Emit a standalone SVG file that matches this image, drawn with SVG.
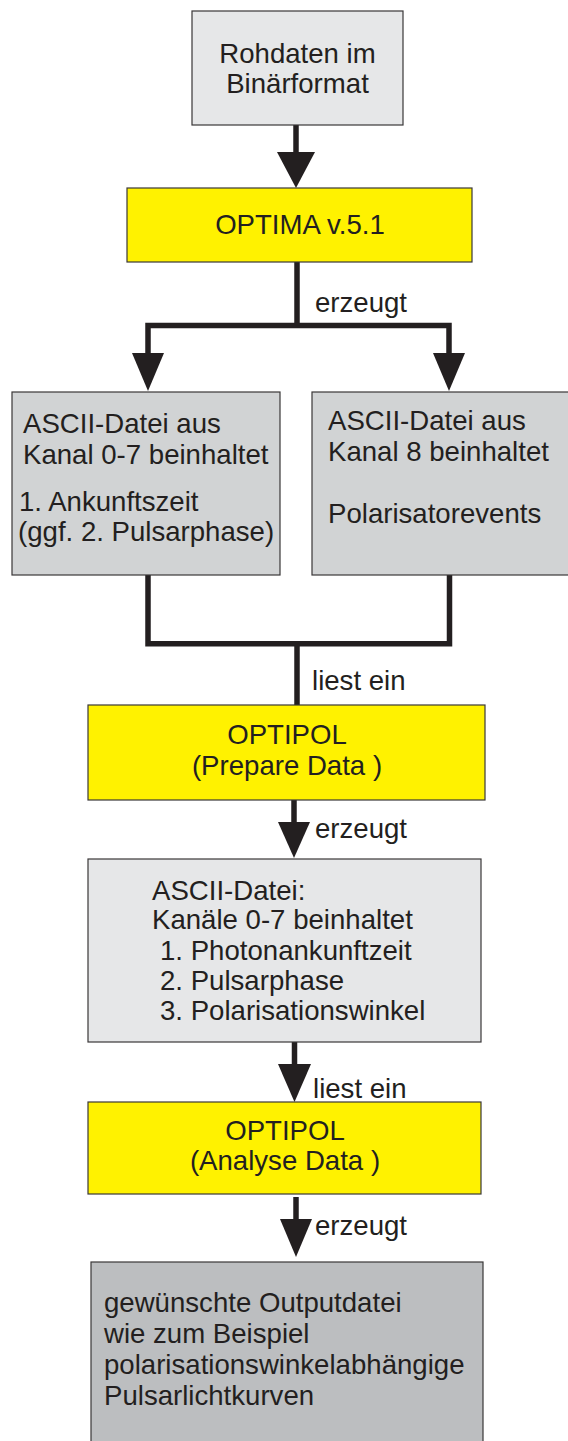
<svg xmlns="http://www.w3.org/2000/svg" width="568" height="1441" viewBox="0 0 568 1441">
<style>
text { font-family: "Liberation Sans", Arial, sans-serif; font-size: 27.6px; fill: #231f20; }
.c { text-anchor: middle; }
.box { stroke: #3a3738; stroke-width: 1.2; }
.light { fill: #e6e7e8; }
.mid { fill: #d1d3d4; }
.dark { fill: #bcbec0; }
.yel { fill: #fff200; }
.ln { stroke: #231f20; stroke-width: 5.5; fill: none; stroke-linecap: butt; }
.ah { fill: #231f20; }
</style>
<rect width="568" height="1441" fill="#ffffff"/>
<g id="connectors">
  <line class="ln" x1="296" y1="125" x2="296" y2="155"/>
  <polygon class="ah" points="277,152 315,152 296,188"/>
  <polyline class="ln" points="148,356 148,325.5 297,325.5 449,325.5 449,356"/>
  <line class="ln" x1="297" y1="262" x2="297" y2="325.5"/>
  <polygon class="ah" points="132,353 164,353 148,391"/>
  <polygon class="ah" points="433,353 465,353 449,391"/>
  <polyline class="ln" points="148,575 148,643.7 449.5,643.7 449.5,575"/>
  <line class="ln" x1="297" y1="643.7" x2="297" y2="705"/>
  <line class="ln" x1="294" y1="800" x2="294" y2="825"/>
  <polygon class="ah" points="278,822 310,822 294,858"/>
  <line class="ln" x1="294.5" y1="1042" x2="294.5" y2="1067"/>
  <polygon class="ah" points="278,1064 311,1064 294.5,1102"/>
  <line class="ln" x1="296" y1="1197" x2="296" y2="1222"/>
  <polygon class="ah" points="280,1219 312,1219 296,1257"/>
  <text x="315" y="312">erzeugt</text>
  <text x="312" y="690">liest ein</text>
  <text x="315" y="838">erzeugt</text>
  <text x="313" y="1098">liest ein</text>
  <text x="315" y="1235">erzeugt</text>
</g>
<g id="rohdaten">
  <rect class="box light" x="192" y="11" width="211" height="114"/>
  <text class="c" x="297.5" y="63">Rohdaten im</text>
  <text class="c" x="297.5" y="93">Binärformat</text>
</g>
<g id="optima">
  <rect class="box yel" x="127" y="188" width="345" height="74"/>
  <text class="c" x="300" y="234">OPTIMA v.5.1</text>
</g>
<g id="ascii-kanal07">
  <rect class="box mid" x="12" y="392" width="268" height="183"/>
  <text x="23" y="433">ASCII-Datei aus</text>
  <text x="23" y="464">Kanal 0-7 beinhaltet</text>
  <text x="19" y="511">1. Ankunftszeit</text>
  <text x="18" y="541">(ggf. 2. Pulsarphase)</text>
</g>
<g id="ascii-kanal8">
  <rect class="box mid" x="312" y="392" width="270" height="183"/>
  <text x="328" y="430">ASCII-Datei aus</text>
  <text x="328" y="461">Kanal 8 beinhaltet</text>
  <text x="328" y="523">Polarisatorevents</text>
</g>
<g id="optipol-prepare">
  <rect class="box yel" x="88" y="705" width="397" height="95"/>
  <text class="c" x="287" y="744">OPTIPOL</text>
  <text class="c" x="287" y="775">(Prepare Data )</text>
</g>
<g id="ascii-kanaele">
  <rect class="box light" x="88" y="859" width="393" height="183"/>
  <text x="152" y="900">ASCII-Datei:</text>
  <text x="152" y="929">Kanäle 0-7 beinhaltet</text>
  <text x="160" y="960">1. Photonankunftzeit</text>
  <text x="160" y="990">2. Pulsarphase</text>
  <text x="160" y="1020">3. Polarisationswinkel</text>
</g>
<g id="optipol-analyse">
  <rect class="box yel" x="88" y="1102" width="393" height="92"/>
  <text class="c" x="285" y="1140">OPTIPOL</text>
  <text class="c" x="285" y="1170">(Analyse Data )</text>
</g>
<g id="output">
  <rect class="box dark" x="91" y="1262" width="392" height="190"/>
  <text x="104" y="1312">gewünschte Outputdatei</text>
  <text x="104" y="1343">wie zum Beispiel</text>
  <text x="104" y="1374">polarisationswinkelabhängige</text>
  <text x="104" y="1405">Pulsarlichtkurven</text>
</g>
</svg>
